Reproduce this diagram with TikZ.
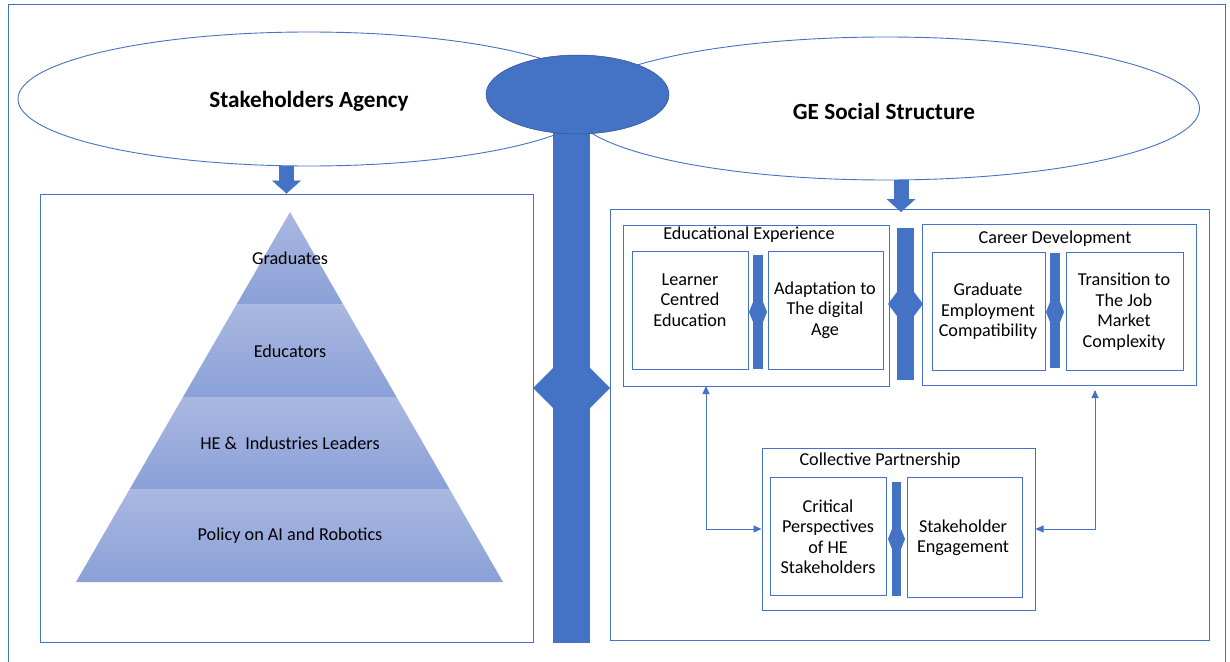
\documentclass[tikz,border=0pt]{standalone}
\usepackage{fontspec}
\setmainfont{Carlito}
\usetikzlibrary{calc,shapes,arrows.meta,fit}

\definecolor{accent}{HTML}{4472C4}
\definecolor{accentdark}{HTML}{2F528F}
\definecolor{pyrtop}{HTML}{AAB8E1}
\definecolor{pyrbot}{HTML}{8AA0D7}

\begin{document}
\begin{tikzpicture}[x=1pt,y=-1pt,
    box/.style={draw=accent, line width=1pt, inner sep=0pt},
    oval/.style={ellipse, draw=accent, line width=0.9pt, fill=white, inner sep=0pt},
    blockarrow/.style={draw=accent, line width=15pt,
      -{Triangle[width=29pt,length=13pt,line width=0.1pt]}},
    link/.style={draw=accent, line width=0.8pt,
      {Triangle[length=8pt,width=7pt]}-{Triangle[length=8pt,width=7pt]}},
    body/.style={align=center, font=\fontsize{18.2}{20.5}\selectfont},
    title/.style={font=\bfseries\fontsize{23.2}{27}\selectfont}]
  \useasboundingbox (0,0) rectangle (1230,661);

  %% Outer frame
  \draw[accent, line width=0.8pt] (8,670) |- (1225,4) -- (1225,670);

  %% The two ovals
  \node[oval, minimum width=582, minimum height=134] (SA) at (309,99) {};
  \node[oval, minimum width=627, minimum height=143] (GS) at (886,108.5) {};
  \node[title] (SAtxt) at (309,101) {Stakeholders Agency};
  \node[title] (GStxt) at (884,111) {GE Social Structure};

  %% Boxes: name / top left / bottom right
  \foreach \nm/\xa/\ya/\xb/\yb in {LB/40/194/533/642, RB/610/209/1209/640,
      EE/623/225/889/386, LC/632/251/748/369, AD/768/251/883/369,
      CD/922/224/1196/385, GE/932/252/1045/370, TR/1066/252/1183/370,
      CP/762/448/1035/610, CR/770/477/886/595, SE/907/477/1022/597}
  {
    \node[box, fit={(\xa,\ya) (\xb,\yb)}] (\nm) {};
  }

  %% Bars with the double heads: x left / x right / top / bottom / head y / extend / half height
  \foreach \xa/\xb/\ya/\yb/\ym/\hx/\hy in {553/590/130/643/388/20/20,
      897/914/228/380/304/9/12, 753/763/255/369/312/4/10,
      1050/1060/253/368/312/4/10, 892/901/482/596/539/4/10}
  {
    \fill[accent] (\xa,\ya) rectangle (\xb,\yb);
    \fill[accent] (\xa,\ym-\hy) -- (\xa-\hx,\ym) -- (\xa,\ym+\hy) -- cycle;
    \fill[accent] (\xb,\ym-\hy) -- (\xb+\hx,\ym) -- (\xb,\ym+\hy) -- cycle;
  }
  \node[ellipse, fill=accent, draw=accentdark, line width=0.5pt, inner sep=0pt,
        minimum width=183, minimum height=79] (HUB) at (577.5,94.5) {};

  %% Block arrows down into the boxes
  \coordinate (DNR) at (901,212);
  \draw[blockarrow] (SA.south -| LB.north) -- (LB.north);
  \draw[blockarrow] (GS.south -| DNR) -- (DNR);

  %% Pyramid
  \coordinate (A) at (290,212);
  \coordinate (BLp) at (76,582);
  \coordinate (BRp) at (503,582);
  \foreach \i/\lbl in {0/Graduates, 1/Educators, 2/HE \&\ \ Industries Leaders,
      3/Policy on AI and Robotics}
  {
    \pgfmathsetmacro\ta{\i/4}
    \pgfmathsetmacro\tb{(\i+1)/4}
    \pgfmathsetmacro\tm{(\i+0.5)/4}
    \shade[top color=pyrtop, middle color=pyrbot, bottom color=pyrbot]
      ($(A)!\ta!(BLp)$) -- ($(A)!\tb!(BLp)$) -- ($(A)!\tb!(BRp)$) -- ($(A)!\ta!(BRp)$) -- cycle;
    \coordinate (m\i) at ($(A)!\tm!(BLp)$);
    \node[body] (PY\i) at (A |- m\i) {\lbl};
  }

  %% Titles of the inner groups
  \node[body] (EEtxt) at (749,235) {Educational Experience};
  \node[body] (CDtxt) at (1055,239) {Career Development};
  \node[body] (CPtxt) at (880,461) {Collective Partnership};

  %% Texts in the small boxes
  \node[body] (LCtxt) at (690,300) {Learner\\Centred\\Education};
  \node[body] (ADtxt) at (825,310) {Adaptation to\\The digital\\Age};
  \node[body] (GEtxt) at (988,311.5) {Graduate\\Employment\\Compatibility};
  \node[body] (TRtxt) at (1124,311.5) {Transition to\\The Job\\Market\\Complexity};
  \node[body] (CRtxt) at (828,536.5) {Critical\\Perspectives\\of HE\\Stakeholders};
  \node[body] (SEtxt) at (963,537.5) {Stakeholder\\Engagement};

  %% Thin links to the partnership box
  \coordinate (EEfoot) at (706,386);
  \coordinate (CDfoot) at (1095,390);
  \draw[link] (EEfoot) |- (CP.west);
  \draw[link] (CDfoot) |- (CP.east);
\end{tikzpicture}
\end{document}
